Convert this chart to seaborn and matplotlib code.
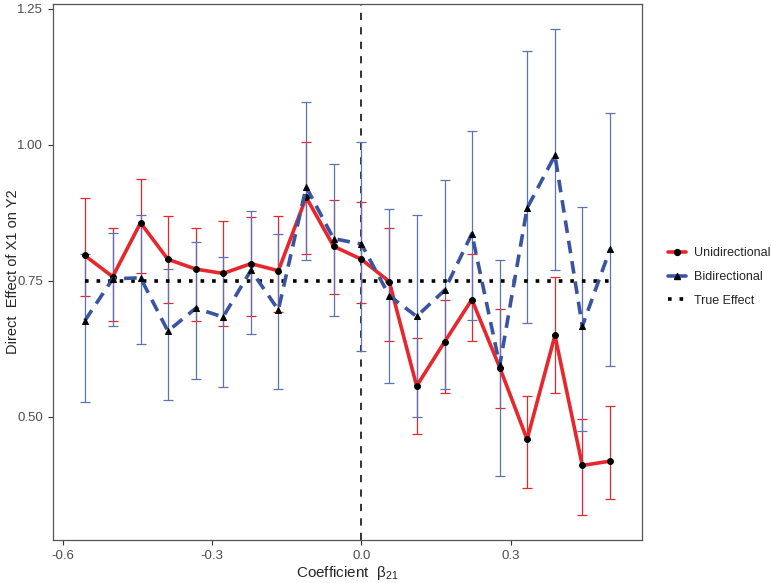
import matplotlib
matplotlib.use("Agg")
import matplotlib.pyplot as plt
from matplotlib.lines import Line2D
import seaborn as sns
import pandas as pd
import numpy as np

# coefficient beta21 grid
beta = [-0.556, -0.500, -0.444, -0.389, -0.333, -0.278, -0.222, -0.167, -0.111, -0.056,
        0.000, 0.056, 0.111, 0.167, 0.222, 0.278, 0.333, 0.389, 0.444, 0.500]

uni_est = [0.796, 0.757, 0.856, 0.789, 0.771, 0.763, 0.781, 0.768, 0.903, 0.813,
           0.789, 0.748, 0.556, 0.637, 0.715, 0.590, 0.458, 0.649, 0.410, 0.418]
uni_hi = [0.902, 0.846, 0.937, 0.869, 0.846, 0.860, 0.866, 0.868, 1.004, 0.898,
          0.894, 0.847, 0.644, 0.715, 0.799, 0.698, 0.538, 0.756, 0.496, 0.519]
uni_lo = [0.721, 0.676, 0.763, 0.708, 0.676, 0.666, 0.685, 0.693, 0.798, 0.726,
          0.708, 0.638, 0.468, 0.543, 0.638, 0.516, 0.368, 0.544, 0.318, 0.349]

bi_est = [0.676, 0.753, 0.755, 0.657, 0.699, 0.683, 0.769, 0.696, 0.922, 0.827,
          0.817, 0.722, 0.684, 0.732, 0.836, 0.594, 0.883, 0.980, 0.666, 0.808]
bi_hi = [0.798, 0.838, 0.871, 0.771, 0.821, 0.793, 0.877, 0.835, 1.079, 0.964,
         1.005, 0.882, 0.871, 0.934, 1.025, 0.788, 1.172, 1.213, 0.885, 1.058]
bi_lo = [0.527, 0.667, 0.633, 0.530, 0.569, 0.554, 0.651, 0.550, 0.788, 0.685,
         0.621, 0.561, 0.499, 0.551, 0.677, 0.391, 0.672, 0.770, 0.474, 0.593]

true_effect = 0.75

RED = "#e8262b"
BLUE = "#3a54a4"
BLUE_ERR = "#5d73b8"

df = pd.DataFrame({
    "beta": beta * 2,
    "effect": uni_est + bi_est,
    "model": ["Unidirectional"] * len(beta) + ["Bidirectional"] * len(beta),
})

sns.set_style("white")
plt.rcParams["font.family"] = ["Liberation Sans", "DejaVu Sans"]

fig = plt.figure(figsize=(7.71, 5.83), dpi=100)
ax = fig.add_axes([0.0687, 0.0738, 0.764, 0.919])

# error bars
ax.errorbar(beta, uni_est, yerr=[np.subtract(uni_est, uni_lo), np.subtract(uni_hi, uni_est)],
            fmt="none", ecolor=RED, elinewidth=0.9, capsize=3.6, capthick=0.9, zorder=2)
ax.errorbar(beta, bi_est, yerr=[np.subtract(bi_est, bi_lo), np.subtract(bi_hi, bi_est)],
            fmt="none", ecolor=BLUE_ERR, elinewidth=0.9, capsize=3.6, capthick=0.9, zorder=2)

# reference lines
ax.axvline(0, color="#222222", ls=(0, (4, 4)), lw=1.3, zorder=1)
ax.plot([beta[0], beta[-1]], [true_effect, true_effect], color="black",
        ls=(0, (1, 2.2)), lw=2.6, zorder=3)

sns.lineplot(data=df, x="beta", y="effect", hue="model", style="model",
             palette={"Unidirectional": RED, "Bidirectional": BLUE},
             dashes={"Unidirectional": "", "Bidirectional": (3.5, 2.2)},
             markers={"Unidirectional": "o", "Bidirectional": "^"},
             markersize=4.2, mfc="black", mec="black", lw=2.6,
             legend=False, ax=ax, zorder=4)

ax.set_xlim(-0.62, 0.564)
ax.set_ylim(0.273, 1.258)
ax.set_xticks([-0.6, -0.3, 0.0, 0.3])
ax.set_xticklabels(["-0.6", "-0.3", "0.0", "0.3"])
ax.set_yticks([0.50, 0.75, 1.00, 1.25])
ax.set_yticklabels(["0.50", "0.75", "1.00", "1.25"])
ax.tick_params(axis="both", which="both", direction="out", length=3.5, width=0.8,
               color="#333333", labelcolor="#4d4d4d", labelsize=9.5, bottom=True, left=True)
for sp in ax.spines.values():
    sp.set_color("#555555")
    sp.set_linewidth(0.9)

ax.set_xlabel(r"Coefficient  $\mathregular{\beta_{21}}$", fontsize=11, labelpad=2)
ax.set_ylabel("Direct  Effect of X1 on Y2", fontsize=10.5)
ax.yaxis.set_label_coords(-0.056, 0.5)

handles = [
    Line2D([0], [0], color=RED, lw=2.6, marker="o", markersize=4.2, mfc="black", mec="black"),
    Line2D([0], [0], color=BLUE, lw=2.6, marker="^", markersize=4.5, mfc="black", mec="black"),
    Line2D([0], [0], color="black", lw=2.6, ls=(0, (1, 2.2))),
]
fig.legend(handles, ["Unidirectional", "Bidirectional", "True Effect"],
           loc="center left", bbox_to_anchor=(0.866, 0.525), frameon=False,
           fontsize=9, handlelength=1.5, labelspacing=0.95, handletextpad=0.6,
           borderpad=0, borderaxespad=0)

fig.savefig("out.png", dpi=100)
